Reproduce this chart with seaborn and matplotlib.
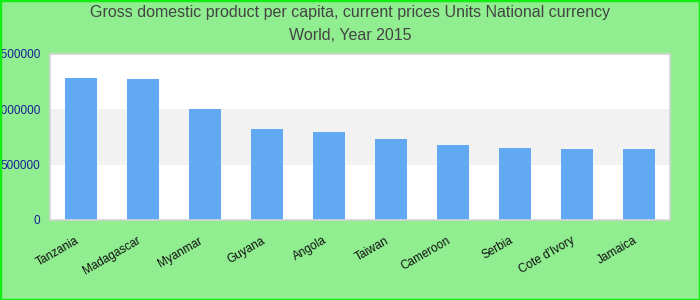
import matplotlib
matplotlib.use("Agg")
import matplotlib.pyplot as plt
import matplotlib.transforms as mtransforms
import seaborn as sns
import pandas as pd
from matplotlib.patches import Rectangle

# GDP per capita, national currency, 2015
countries = ["Tanzania", "Madagascar", "Myanmar", "Guyana", "Angola",
             "Taiwan", "Cameroon", "Serbia", "Cote d'Ivory", "Jamaica"]
gdp = [1276000, 1267000, 997000, 818000, 791000,
       728000, 674000, 647000, 638000, 638000]
yticks = [0, 500000, 1000000, 1500000]

df = pd.DataFrame({"country": countries, "gdp": gdp})

sns.set_style("white")
plt.rcParams["font.family"] = ["Liberation Sans", "DejaVu Sans"]

fig = plt.figure(figsize=(7, 3), dpi=100, facecolor="#90ee90")
ax = fig.add_axes([50 / 700, 1 - 220 / 300, 620 / 700, 166.5 / 300])
ax.set_facecolor("white")

# alternating band
ax.axhspan(500000, 1000000, color="#f2f2f2", zorder=0, lw=0)

sns.barplot(data=df, x="country", y="gdp", color="#62a9f4", saturation=1,
            width=0.52, ax=ax, zorder=2, linewidth=0)

ax.set_ylim(0, 1500000)
ax.set_xlim(-0.5, len(countries) - 0.5)
ax.set_yticks(yticks)
ax.set_yticklabels([str(v) for v in yticks], color="#1c1c99", fontsize=8.5)
ax.tick_params(axis="y", length=0, pad=7)
ax.tick_params(axis="x", length=0, pad=4)
plt.setp(ax.get_xticklabels(), rotation=30, ha="right", rotation_mode="anchor",
         fontsize=8.5, color="#111111")
shift = mtransforms.ScaledTranslation(-6 / 100, -9 / 100, fig.dpi_scale_trans)
for lbl in ax.get_xticklabels():
    lbl.set_transform(lbl.get_transform() + shift)
ax.set_xlabel("")
ax.set_ylabel("")
for s in ax.spines.values():
    s.set_color("#d4d4d4")
    s.set_linewidth(1.2)

fig.text(0.5, 1 - 13 / 300, "Gross domestic product per capita, current prices Units National currency",
         ha="center", va="center", fontsize=11.5, color="#444444")
fig.text(0.5, 1 - 36 / 300, "World, Year 2015",
         ha="center", va="center", fontsize=11.5, color="#444444")

fig.patches.append(Rectangle((0, 0), 1, 1, transform=fig.transFigure,
                             fill=False, edgecolor="#11ee11", linewidth=2.5))

fig.savefig("out.png", dpi=100, facecolor=fig.get_facecolor())
